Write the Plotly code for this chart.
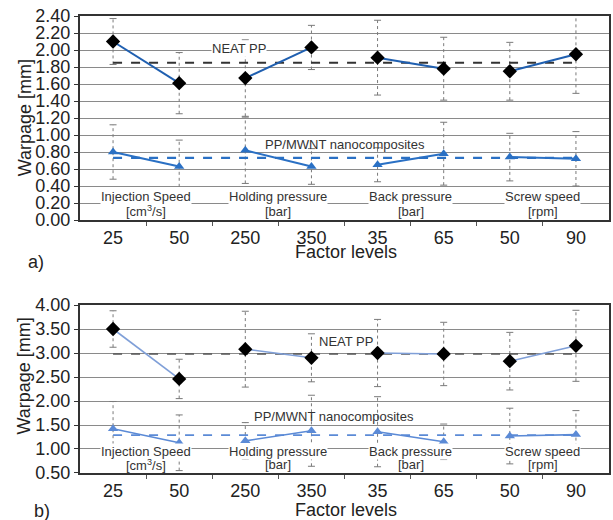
import plotly.graph_objects as go

positions = [1, 2, 3, 4, 5, 6, 7, 8]
tick_labels = ["25", "50", "250", "350", "35", "65", "50", "90"]
factor_names = ["Injection Speed", "Holding pressure", "Back pressure", "Screw speed"]
factor_units = ["[cm<sup>3</sup>/s]", "[bar]", "[bar]", "[rpm]"]

# Chart a)
a_neat = [2.10, 1.61, 1.67, 2.03, 1.91, 1.78, 1.75, 1.95]
a_neat_err = [0.27, 0.36, 0.45, 0.26, 0.44, 0.37, 0.34, 0.46]
a_neat_mean = 1.85
a_nano = [0.80, 0.63, 0.82, 0.63, 0.65, 0.78, 0.74, 0.72]
a_nano_err = [0.32, 0.31, 0.39, 0.21, 0.20, 0.37, 0.28, 0.32]
a_nano_mean = 0.73

# Chart b)
b_neat = [3.50, 2.46, 3.08, 2.90, 3.00, 2.98, 2.83, 3.15]
b_neat_err = [0.38, 0.41, 0.79, 0.50, 0.70, 0.66, 0.60, 0.74]
b_neat_mean = 2.98
b_nano = [1.42, 1.13, 1.17, 1.38, 1.36, 1.15, 1.27, 1.30]
b_nano_err = [0.57, 0.58, 0.38, 0.74, 0.73, 0.37, 0.58, 0.50]
b_nano_mean = 1.29

fig = go.Figure()


def add_panel(vals_neat, err_neat, mean_neat, vals_nano, err_nano, mean_nano,
              xa, ya, neat_col, nano_col, lw, mean_col, mean_w):
    # error bars (dotted)
    for vals, errs in ((vals_neat, err_neat), (vals_nano, err_nano)):
        ex, ey, cx, cy = [], [], [], []
        for p, v, e in zip(positions, vals, errs):
            ex += [p, p, None]
            ey += [v - e, v + e, None]
            cx += [p, p]
            cy += [v - e, v + e]
        fig.add_trace(go.Scatter(x=ex, y=ey, mode="lines", xaxis=xa, yaxis=ya,
                                 line=dict(color="#7a7a7a", width=1, dash="dot"),
                                 showlegend=False, hoverinfo="skip"))
        fig.add_trace(go.Scatter(x=cx, y=cy, mode="markers", xaxis=xa, yaxis=ya,
                                 marker=dict(symbol="line-ew", size=5,
                                             line=dict(color="#7a7a7a", width=1)),
                                 showlegend=False, hoverinfo="skip"))
    # mean lines
    fig.add_trace(go.Scatter(x=[positions[0], positions[-1]], y=[mean_neat, mean_neat],
                             mode="lines", xaxis=xa, yaxis=ya,
                             line=dict(color=mean_col, width=mean_w, dash="dash"),
                             showlegend=False))
    fig.add_trace(go.Scatter(x=[positions[0], positions[-1]], y=[mean_nano, mean_nano],
                             mode="lines", xaxis=xa, yaxis=ya,
                             line=dict(color=nano_col, width=mean_w, dash="dash"),
                             showlegend=False))
    # pairs
    for k in range(4):
        px = positions[2 * k:2 * k + 2]
        fig.add_trace(go.Scatter(x=px, y=vals_nano[2 * k:2 * k + 2], mode="lines+markers",
                                 xaxis=xa, yaxis=ya,
                                 line=dict(color=nano_col, width=lw),
                                 marker=dict(symbol="triangle-up", size=9, color=nano_col),
                                 showlegend=False))
        fig.add_trace(go.Scatter(x=px, y=vals_neat[2 * k:2 * k + 2], mode="lines+markers",
                                 xaxis=xa, yaxis=ya,
                                 line=dict(color=neat_col, width=lw),
                                 marker=dict(symbol="diamond", size=11, color="black"),
                                 showlegend=False))


add_panel(a_neat, a_neat_err, a_neat_mean, a_nano, a_nano_err, a_nano_mean,
          "x", "y", "#1f5fb0", "#2a70c4", 2, "#333333", 2.2)
add_panel(b_neat, b_neat_err, b_neat_mean, b_nano, b_nano_err, b_nano_mean,
          "x2", "y2", "#7f9fd8", "#5b8ad6", 1.6, "#555555", 1.6)

font = "Liberation Sans, Arial, sans-serif"
common_x = dict(range=[0.5, 8.5], tickvals=positions, ticktext=tick_labels, ticks="",
                showgrid=False, zeroline=False, showline=True, linecolor="#333333",
                linewidth=2, mirror=True, tickfont=dict(size=18, color="#222222"),
                minor=dict(tickvals=[1.5, 2.5, 3.5, 4.5, 5.5, 6.5, 7.5], ticks="outside",
                           ticklen=4, tickcolor="#555555", showgrid=False))
common_y = dict(showgrid=True, gridcolor="#8a8a8a", gridwidth=1, zeroline=False,
                showline=True, linecolor="#333333", linewidth=2, mirror=True,
                ticks="outside", ticklen=4, tickcolor="#333333",
                tickfont=dict(size=18, color="#222222"))

fig.update_layout(
    width=613, height=520,
    margin=dict(l=80, r=2, t=16, b=47),
    paper_bgcolor="white", plot_bgcolor="white",
    font=dict(family=font, color="#222222"),
    xaxis=dict(common_x, anchor="y"),
    yaxis=dict(common_y, domain=[0.5536, 1.0], range=[0, 2.4], dtick=0.2,
               tickformat=".2f", anchor="x"),
    xaxis2=dict(common_x, anchor="y2"),
    yaxis2=dict(common_y, domain=[0.0, 0.3676], range=[0.5, 4.0], dtick=0.5,
                tickformat=".2f", anchor="x2"),
)

lab = dict(size=13, color="#333333")
big = dict(size=18, color="#222222")
ann = []
for k, (name, unit) in enumerate(zip(factor_names, factor_units)):
    cx = 2 * k + 1.5
    ann.append(dict(x=cx, y=0.275, xref="x", yref="y", text=name, font=lab,
                    bgcolor="white", borderpad=0))
    ann.append(dict(x=cx, y=0.105, xref="x", yref="y", text=unit, font=lab))
    ann.append(dict(x=cx, y=0.95, xref="x2", yref="y2", text=name, font=lab,
                    bgcolor="white", borderpad=0))
    ann.append(dict(x=cx, y=0.67, xref="x2", yref="y2", text=unit, font=lab))
ann += [
    dict(x=2.91, y=2.02, xref="x", yref="y", text="NEAT PP", font=lab,
         bgcolor="white", borderpad=0),
    dict(x=4.5, y=0.89, xref="x", yref="y", text="PP/MWNT nanocomposites", font=lab),
    dict(x=4.52, y=3.25, xref="x2", yref="y2", text="NEAT PP", font=lab),
    dict(x=4.34, y=1.67, xref="x2", yref="y2", text="PP/MWNT nanocomposites", font=lab),
    dict(x=-0.105, y=0.777, xref="paper", yref="paper", text="Warpage [mm]",
         textangle=-90, font=big),
    dict(x=-0.105, y=0.212, xref="paper", yref="paper", text="Warpage [mm]",
         textangle=-90, font=big),
    dict(x=0.503, y=0.4836, xref="paper", yref="paper", text="Factor levels", font=big),
    dict(x=0.503, y=-0.081, xref="paper", yref="paper", text="Factor levels", font=big),
    dict(x=-0.083, y=0.4617, xref="paper", yref="paper", text="a)", font=big),
    dict(x=-0.072, y=-0.083, xref="paper", yref="paper", text="b)", font=big),
]
for a in ann:
    a.setdefault("showarrow", False)
    a.setdefault("xanchor", "center")
    a.setdefault("yanchor", "middle")
fig.update_layout(annotations=ann)

fig.write_html("out.html", config={"displayModeBar": False},
               post_script="document.body.style.margin='0';")
